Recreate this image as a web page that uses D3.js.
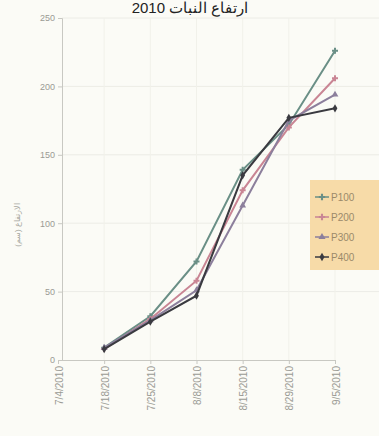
<!DOCTYPE html>
<html>
<head>
<meta charset="utf-8">
<script src="https://cdn.jsdelivr.net/npm/d3@7"></script>
<style>
  body { margin: 0; background: #fbfbf6; }
  text { font-family: "Liberation Sans", Arial, sans-serif; }
</style>
</head>
<body>
<script>
var width = 379, height = 436;

// categories (dates on x axis), first one has no data
var dates = ["7/4/2010", "7/18/2010", "7/25/2010", "8/8/2010", "8/15/2010", "8/29/2010", "9/5/2010"];
var series = ["P100", "P200", "P300", "P400"];
var p100 = [null, 9, 32, 72, 139, 172, 226];
var p200 = [null, 8, 30, 58, 124, 170, 206];
var p300 = [null, 9, 29, 51, 113, 175, 194];
var p400 = [null, 8, 28, 47, 135, 177, 184];
var yTicks = [0, 50, 100, 150, 200, 250];
var colors = ["#6a8f86", "#c98594", "#8c7f9c", "#3a3a40"];

var values = [p100, p200, p300, p400];

var svg = d3.select("body").append("svg")
    .attr("width", width)
    .attr("height", height);

var x = d3.scalePoint().domain(dates).range([58, 335]);
var y = d3.scaleLinear().domain([0, 250]).range([360, 18]);

// faint grid
svg.append("g").selectAll("line").data(yTicks.slice(1)).enter().append("line")
    .attr("x1", 62).attr("x2", width)
    .attr("y1", function(d){ return y(d); }).attr("y2", function(d){ return y(d); })
    .attr("stroke", "#ecece6").attr("stroke-width", 1);
svg.append("g").selectAll("line").data(dates.slice(1)).enter().append("line")
    .attr("x1", function(d){ return x(d); }).attr("x2", function(d){ return x(d); })
    .attr("y1", 18).attr("y2", 360)
    .attr("stroke", "#f1f1ea").attr("stroke-width", 1);

// axes
var yAxis = svg.append("g")
    .attr("transform", "translate(62,0)")
    .call(d3.axisLeft(y).tickValues(yTicks).tickSize(4));
yAxis.select(".domain").attr("stroke", "#c8c8c2");
yAxis.selectAll(".tick line").attr("stroke", "#c8c8c2");
yAxis.selectAll("text").attr("fill", "#9a9a94").attr("font-size", 9);

var xAxis = svg.append("g")
    .attr("transform", "translate(0,360)")
    .call(d3.axisBottom(x).tickSize(4));
xAxis.select(".domain").attr("stroke", "#c8c8c2");
xAxis.selectAll(".tick line").attr("stroke", "#c8c8c2");
xAxis.selectAll("text")
    .attr("fill", "#9a9a94").attr("font-size", 10)
    .attr("transform", "rotate(-90)")
    .attr("text-anchor", "end")
    .attr("dx", "-0.6em").attr("dy", "-0.3em");

// title
svg.append("text")
    .attr("x", 190).attr("y", 13)
    .attr("text-anchor", "middle")
    .attr("font-size", 15)
    .attr("fill", "#222")
    .text("ارتفاع النبات 2010");

// y label
svg.append("text")
    .attr("transform", "translate(20,225) rotate(-90)")
    .attr("text-anchor", "middle")
    .attr("font-size", 8)
    .attr("fill", "#a8a8a2")
    .text("(سم) الارتفاع");

// lines
var line = d3.line()
    .defined(function(d){ return d.v !== null; })
    .x(function(d){ return x(d.date); })
    .y(function(d){ return y(d.v); });

var symbols = [d3.symbolCross, d3.symbolCross, d3.symbolTriangle, d3.symbolDiamond];

values.forEach(function(vals, i){
    var pts = vals.map(function(v, j){ return {date: dates[j], v: v}; });
    svg.append("path")
        .datum(pts)
        .attr("fill", "none")
        .attr("stroke", colors[i])
        .attr("stroke-width", 2)
        .attr("d", line);
    svg.append("g").selectAll("path")
        .data(pts.filter(function(d){ return d.v !== null; }))
        .enter().append("path")
        .attr("transform", function(d){ return "translate(" + x(d.date) + "," + y(d.v) + ")"; })
        .attr("d", d3.symbol().type(symbols[i]).size(20))
        .attr("fill", colors[i]);
});

// legend
var lg = svg.append("g").attr("transform", "translate(310,180)");
lg.append("rect")
    .attr("width", 75).attr("height", 90)
    .attr("fill", "#f7dba8");
series.forEach(function(s, i){
    var row = lg.append("g").attr("transform", "translate(12," + (17 + i * 20) + ")");
    row.append("line").attr("x1", -7).attr("x2", 7)
        .attr("stroke", colors[i]).attr("stroke-width", 1.5);
    row.append("path")
        .attr("d", d3.symbol().type(symbols[i]).size(22))
        .attr("fill", colors[i]);
    row.append("text")
        .attr("x", 9).attr("y", 3.5)
        .attr("font-size", 10)
        .attr("fill", "#9b8a6a")
        .text(s);
});
</script>
</body>
</html>
